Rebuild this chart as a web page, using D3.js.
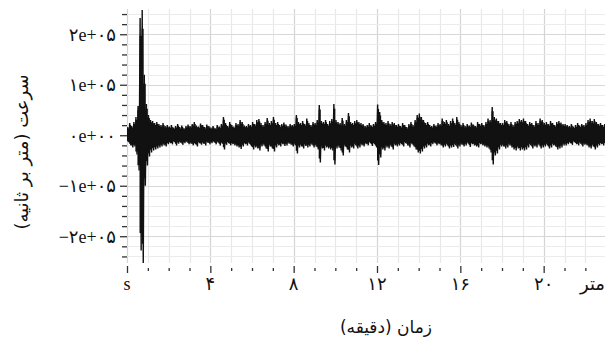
<!DOCTYPE html>
<html><head><meta charset="utf-8">
<script src="https://cdn.jsdelivr.net/npm/d3@7"></script>
<style>
html,body{margin:0;padding:0;background:#fff;}
svg{display:block;}
</style></head>
<body><div id="chart"></div>
<script>
// ---- data (velocity envelope per 0.1-minute bin, in thousands of units) ----
const binMinutes = 0.1;
const hiK = [
 16, 24, 18, 26, 36, 58, 232, 248, 120, 62,
 40, 30, 28, 24, 26, 22, 20, 24, 18, 20,
 17, 20, 15, 18, 22, 16, 19, 14, 18, 21,
 18, 22, 26, 19, 17, 23, 20, 16, 21, 18,
 15, 18, 14, 20, 17, 22, 36, 24, 18, 26,
 20, 17, 24, 22, 30, 26, 19, 18, 22, 20,
 26, 22, 30, 32, 24, 20, 26, 34, 24, 28,
 36, 24, 26, 20, 22, 25, 21, 18, 22, 20,
 22, 40, 26, 24, 28, 22, 33, 24, 20, 26,
 24, 30, 60, 28, 26, 30, 22, 28, 32, 62,
 30, 26, 24, 34, 22, 30, 44, 26, 24, 28,
 30, 26, 24, 22, 18, 20, 24, 19, 22, 26,
 61, 46, 30, 26, 24, 28, 22, 26, 24, 20,
 22, 18, 24, 20, 16, 22, 26, 20, 30, 40,
 43, 36, 30, 24, 26, 20, 18, 22, 19, 24,
 22, 33, 26, 30, 22, 28, 33, 24, 36, 26,
 20, 24, 18, 22, 19, 25, 21, 18, 26, 22,
 24, 20, 26, 33, 30, 56, 36, 33, 28, 24,
 24, 30, 28, 22, 26, 20, 26, 28, 32, 30,
 33, 28, 22, 26, 24, 20, 28, 24, 33, 30,
 24, 26, 22, 28, 24, 20, 26, 28, 25, 22,
 22, 20, 18, 22, 17, 20, 24, 19, 22, 20,
 24, 30, 33, 28, 32, 26, 22, 24, 20, 22
];
const loK = [
 -14, -20, -24, -22, -38, -70, -228, -253, -100, -60,
 -42, -34, -30, -28, -26, -24, -22, -20, -22, -18,
 -16, -18, -14, -20, -17, -15, -19, -16, -14, -18,
 -17, -20, -18, -22, -16, -19, -17, -20, -15, -18,
 -16, -14, -18, -15, -20, -17, -28, -19, -16, -20,
 -18, -20, -22, -24, -27, -22, -18, -20, -17, -22,
 -28, -24, -26, -30, -22, -20, -26, -32, -22, -26,
 -32, -24, -20, -22, -18, -21, -20, -17, -19, -22,
 -20, -36, -24, -22, -26, -21, -24, -22, -19, -24,
 -22, -28, -54, -26, -30, -24, -26, -28, -30, -58,
 -26, -24, -30, -40, -22, -28, -34, -24, -26, -20,
 -26, -24, -20, -22, -18, -20, -16, -21, -18, -24,
 -59, -44, -28, -30, -24, -26, -22, -28, -20, -22,
 -20, -18, -22, -16, -20, -24, -18, -22, -28, -34,
 -36, -32, -26, -24, -20, -22, -18, -16, -20, -18,
 -20, -24, -22, -20, -26, -24, -23, -20, -26, -22,
 -19, -22, -20, -17, -23, -18, -20, -22, -24, -18,
 -20, -22, -24, -26, -34, -58, -40, -36, -28, -22,
 -22, -26, -24, -20, -24, -28, -30, -26, -30, -28,
 -30, -28, -24, -20, -26, -22, -24, -20, -26, -24,
 -22, -20, -26, -24, -20, -22, -28, -26, -24, -20,
 -20, -18, -16, -19, -14, -18, -20, -17, -22, -19,
 -20, -24, -26, -22, -28, -24, -20, -18, -20, -18
];
const yTicks = [200000, 100000, 0, -100000, -200000];
const yTickLabels = ["۲e+۰۵", "۱e+۰۵", "۰e+۰۰", "−۱e+۰۵", "−۲e+۰۵"];
const xTicks = [0, 4, 8, 12, 16, 20, 24];
const xTickLabels = ["s", "۴", "۸", "۱۲", "۱۶", "۲۰", "متر"];
const yTitle = "سرعت (متر بر ثانیه)";
const xTitle = "زمان (دقیقه)";

// ---- layout ----
const W = 605, H = 345;
const svg = d3.select("#chart").append("svg").attr("width", W).attr("height", H);

const x = d3.scaleLinear().domain([0, 24]).range([127, 627]);
const y = d3.scaleLinear().domain([-253000, 250000]).range([263, 9]);

const latin = "'Liberation Serif', 'DejaVu Sans', serif";
const arab = "'DejaVu Sans', sans-serif";

// grid
const grid = svg.append("g");
const minuteGrid = d3.range(0, 24, 1);
grid.selectAll("line.vmin").data(minuteGrid).join("line")
  .attr("x1", d => Math.round(x(d)) + 0.5).attr("x2", d => Math.round(x(d)) + 0.5)
  .attr("y1", y.range()[1]).attr("y2", y.range()[0])
  .attr("stroke", d => d % 4 === 0 ? "#d4d4d4" : "#e8e8e8").attr("stroke-width", 1.2);
const hGrid = d3.range(-240000, 240001, 20000);
grid.selectAll("line.h").data(hGrid).join("line")
  .attr("x1", x(0)).attr("x2", W)
  .attr("y1", d => Math.round(y(d)) + 0.5).attr("y2", d => Math.round(y(d)) + 0.5)
  .attr("stroke", d => d % 100000 === 0 ? "#d8d8d8" : "#ececec").attr("stroke-width", 1.2);

// y axis (ticks only)
const yAxis = d3.axisLeft(y).tickValues(hGrid).tickSize(5).tickFormat("");
const gy = svg.append("g").attr("transform", `translate(${x(0)},0)`).call(yAxis);
gy.select(".domain").remove();
gy.selectAll(".tick line").attr("stroke", "#333").attr("stroke-width", 1.3)
  .attr("x2", d => d % 100000 === 0 ? -7 : -5);
svg.append("g").selectAll("text").data(yTicks).join("text")
  .attr("x", 116).attr("y", d => y(d)).attr("dy", "0.35em")
  .attr("text-anchor", "end").attr("font-family", latin).attr("font-size", 18)
  .attr("fill", "#111")
  .text((d, i) => yTickLabels[i]);

// x axis (ticks only)
const xAxis = d3.axisBottom(x).tickValues(d3.range(0, 24, 1)).tickSize(4).tickFormat("");
const gx = svg.append("g").attr("transform", `translate(0,267)`).call(xAxis);
gx.select(".domain").remove();
gx.selectAll(".tick line").attr("stroke", "#333").attr("stroke-width", 1.3)
  .attr("y1", d => d % 4 === 0 ? -1 : 1).attr("y2", d => d % 4 === 0 ? 6 : 4);
svg.append("g").selectAll("text").data(xTicks).join("text")
  .attr("x", (d, i) => i === xTicks.length - 1 ? 605 : x(d))
  .attr("y", 284).attr("dy", "0.35em")
  .attr("text-anchor", (d, i) => i === xTicks.length - 1 ? "end" : "middle")
  .attr("font-family", (d, i) => i === 0 ? latin : arab).attr("font-size", 18)
  .attr("fill", "#111")
  .text((d, i) => xTickLabels[i]);

// signal: filled envelope plus a zigzag trace between bin maxima and minima
svg.append("clipPath").attr("id", "clip").append("rect")
  .attr("x", x(0)).attr("y", 0).attr("width", W - x(0)).attr("height", 266);
const bins = hiK.map((h, i) => ({ t: i * binMinutes, hi: h * 1000, lo: loK[i] * 1000 }));
const core = bins.map(b => ({ t: b.t, hi: b.hi * 0.85, lo: b.lo * 0.85 }));
core.push({ t: bins.length * binMinutes, hi: core[core.length - 1].hi, lo: core[core.length - 1].lo });
svg.append("path").datum(core)
  .attr("clip-path", "url(#clip)")
  .attr("d", d3.area().curve(d3.curveStepAfter)
    .x(d => x(d.t)).y0(d => y(d.lo)).y1(d => y(d.hi)))
  .attr("fill", "#111");
const pts = [];
bins.forEach(b => {
  pts.push([b.t + binMinutes * 0.3, b.hi]);
  pts.push([b.t + binMinutes * 0.8, b.lo]);
});
svg.append("path").datum(pts)
  .attr("clip-path", "url(#clip)")
  .attr("d", d3.line().x(d => x(d[0])).y(d => y(d[1])))
  .attr("fill", "none").attr("stroke", "#111").attr("stroke-width", 1.4);

// titles
svg.append("text")
  .attr("transform", `translate(22,152) rotate(-90)`)
  .attr("text-anchor", "middle").attr("dy", "0.35em")
  .attr("direction", "rtl").style("direction", "rtl")
  .attr("font-family", arab).attr("font-size", 18).attr("fill", "#111")
  .text(yTitle);
svg.append("text")
  .attr("x", 386).attr("y", 327).attr("dy", "0.35em")
  .attr("text-anchor", "middle")
  .attr("direction", "rtl").style("direction", "rtl")
  .attr("font-family", arab).attr("font-size", 17).attr("fill", "#111")
  .text(xTitle);
</script>
</body></html>
